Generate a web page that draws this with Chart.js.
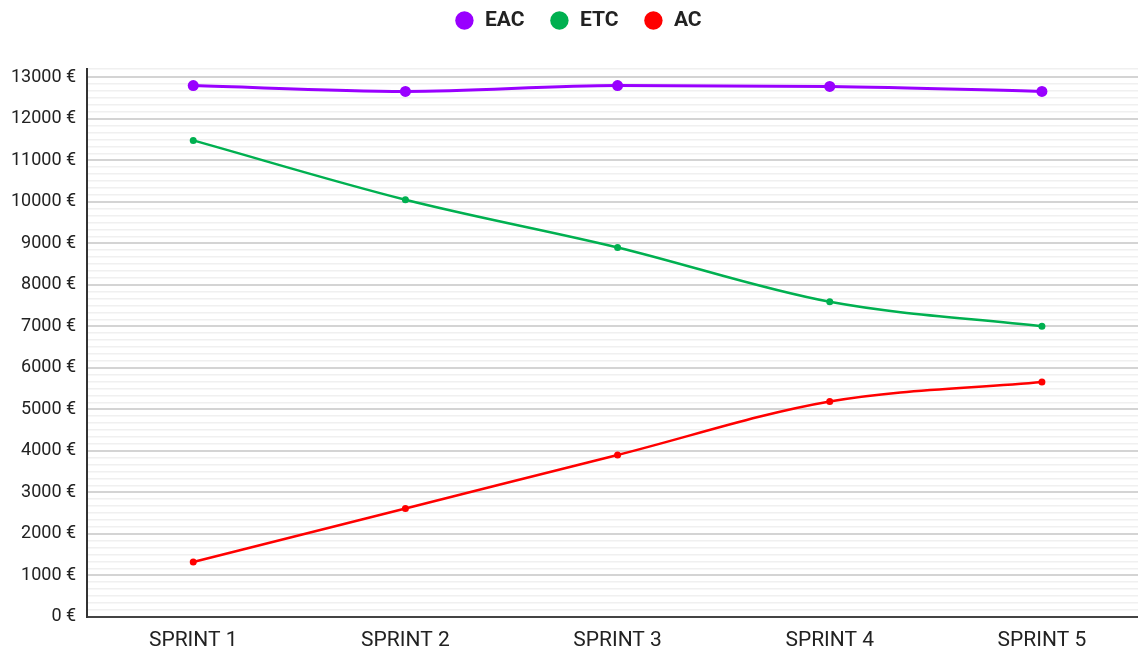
<!DOCTYPE html>
<html>
<head>
<meta charset="utf-8">
<script src="https://cdn.jsdelivr.net/npm/chart.js"></script>
<style>
  html, body { margin: 0; padding: 0; background: #fff; overflow: hidden; }
  #wrap { width: 1158px; height: 650px; position: relative; }
</style>
</head>
<body>
<div id="wrap"><canvas id="myChart"></canvas></div>
<script>
// sprints on the x axis
const sprints = ['SPRINT 1', 'SPRINT 2', 'SPRINT 3', 'SPRINT 4', 'SPRINT 5'];
// values, in euro
const eac = [12800, 12660, 12800, 12780, 12660];
const etc = [11480, 10050, 8900, 7590, 7000];
const ac = [1320, 2610, 3900, 5190, 5660];

const isMajor = v => Math.abs(v / 1000 - Math.round(v / 1000)) < 1e-6;

// push the plot area down under the legend, nudge the legend a bit right
const legendGap = {
    id: 'legendGap',
    beforeInit(chart) {
        const fit = chart.legend.fit;
        chart.legend.fit = function () {
            fit.call(this);
            this.height += 28;
        };
    },
    afterLayout(chart) {
        chart.legend.left += 4;
        chart.legend.right += 4;
    }
};

window.addEventListener('DOMContentLoaded', () => {
    Chart.defaults.font.family = 'Roboto';
    const ctx = document.getElementById('myChart').getContext('2d');

    new Chart(ctx, {
        type: 'line',
        data: {
            labels: sprints,
            datasets: [{
                label: 'EAC',
                data: eac,
                borderColor: '#9900ff',
                backgroundColor: '#9900ff',
                borderWidth: 3,
                pointRadius: 5.5,
                pointBorderWidth: 0,
                cubicInterpolationMode: 'monotone'
            }, {
                label: 'ETC',
                data: etc,
                borderColor: '#00b050',
                backgroundColor: '#00b050',
                borderWidth: 2.5,
                pointRadius: 3.5,
                pointBorderWidth: 0,
                cubicInterpolationMode: 'monotone'
            }, {
                label: 'AC',
                data: ac,
                borderColor: '#ff0000',
                backgroundColor: '#ff0000',
                borderWidth: 2.5,
                pointRadius: 3.5,
                pointBorderWidth: 0,
                cubicInterpolationMode: 'monotone'
            }]
        },
        plugins: [legendGap],
        options: {
            responsive: true,
            maintainAspectRatio: false,
            animation: false,
            layout: { padding: { top: -15, right: 10, bottom: -14 } },
            scales: {
                x: {
                    offset: true,
                    grid: { display: false, drawTicks: false },
                    border: { color: '#444', width: 2 },
                    ticks: { color: '#222', font: { size: 21 }, padding: 11 }
                },
                y: {
                    min: 0,
                    max: 13200,
                    grid: {
                        drawTicks: false,
                        color: c => isMajor(c.tick.value) ? '#d4d4d4' : '#f0f0f0',
                        lineWidth: c => isMajor(c.tick.value) ? 2 : 1.5
                    },
                    border: { color: '#333', width: 2 },
                    ticks: {
                        stepSize: 1000 / 6,
                        autoSkip: false,
                        color: '#222',
                        font: { size: 18 },
                        padding: 11,
                        callback: v => isMajor(v) ? Math.round(v) + ' €' : ''
                    }
                }
            },
            plugins: {
                legend: {
                    labels: {
                        usePointStyle: true,
                        pointStyle: 'circle',
                        boxWidth: 20,
                        boxHeight: 13,
                        padding: 25,
                        color: '#222',
                        font: { size: 21, weight: 'bold' }
                    }
                },
                tooltip: { enabled: false }
            }
        }
    });
});
</script>
</body>
</html>
